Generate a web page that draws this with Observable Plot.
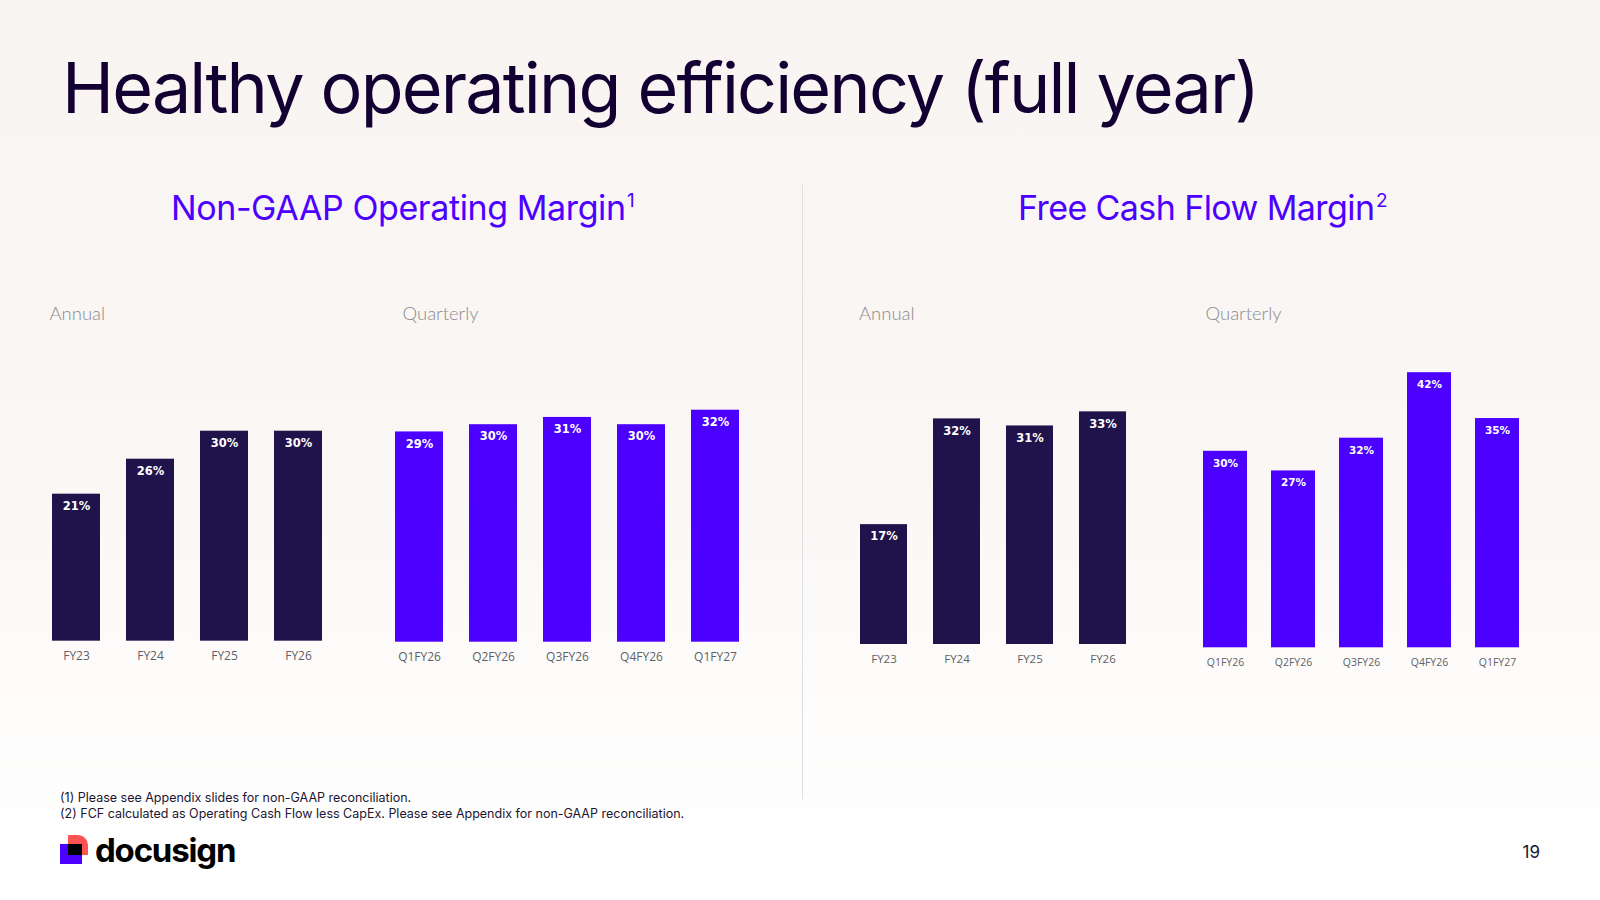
<!DOCTYPE html>
<html>
<head>
<meta charset="utf-8">
<script src="https://cdn.jsdelivr.net/npm/d3@7"></script>
<script src="https://cdn.jsdelivr.net/npm/@observablehq/plot@0.6"></script>
<style>
  html, body { margin: 0; padding: 0; }
  body { width: 1600px; height: 900px; overflow: hidden; position: relative;
         background: linear-gradient(180deg, #f8f4f1 0%, #faf7f5 55%, #fefdfc 80%, #ffffff 100%);
         font-family: Inter, "Open Sans", sans-serif; }
  #overlay { position: absolute; left: 0; top: 0; }
  .chart { position: absolute; }
</style>
</head>
<body>
<svg id="overlay" width="1600" height="900"></svg>
<script>
// ---------- data ----------
const annualLabels = ["FY23", "FY24", "FY25", "FY26"];
const quarterLabels = ["Q1FY26", "Q2FY26", "Q3FY26", "Q4FY26", "Q1FY27"];
const opMarginAnnual = [21, 26, 30, 30];
const opMarginQuarterly = [29, 30, 31, 30, 32];
const fcfMarginAnnual = [17, 32, 31, 33];
const fcfMarginQuarterly = [30, 27, 32, 42, 35];

const titleText = "Healthy operating efficiency (full year)";
const leftHeading = "Non-GAAP Operating Margin";
const rightHeading = "Free Cash Flow Margin";
const footnotes = [
  "(1) Please see Appendix slides for non-GAAP reconciliation.",
  "(2) FCF calculated as Operating Cash Flow less CapEx. Please see Appendix for non-GAAP reconciliation."
];

const NAVY = "#20124a";
const PURPLE = "#4c00ff";

// ---------- bar chart builder ----------
function barChart({labels, values, color, left, right, bw, base, pxPer, top, tickPad, tickSize, valueSize}) {
  const n = labels.length;
  const step = (right - left - bw) / (n - 1);
  const p = 1 - bw / step;
  const x0 = left - (step - bw) / 2;
  const mL = 10, mR = 10, mB = 40;
  const width = n * step + mL + mR;
  const height = base - top + mB;
  const data = labels.map((l, i) => ({label: l, value: values[i]}));
  const chart = Plot.plot({
    width, height,
    marginLeft: mL, marginRight: mR, marginTop: 0, marginBottom: mB,
    style: {background: "transparent", color: "#5f5f66", fontFamily: "Open Sans, sans-serif", fontSize: tickSize + "px", overflow: "visible"},
    x: {domain: labels, paddingInner: p, paddingOuter: p / 2, label: null},
    y: {domain: [0, (base - top) / pxPer], axis: null},
    marks: [
      Plot.barY(data, {x: "label", y: "value", fill: color}),
      Plot.text(data, {x: "label", y: "value", text: d => d.value + "%", dy: 12,
        fill: "white", fontWeight: "bold", fontSize: valueSize, fontFamily: "DejaVu Sans, sans-serif"}),
      Plot.axisX({tickSize: 0, tickPadding: tickPad, label: null})
    ]
  });
  chart.classList.add("chart");
  chart.style.left = (x0 - mL) + "px";
  chart.style.top = top + "px";
  document.body.appendChild(chart);
}

barChart({labels: annualLabels, values: opMarginAnnual, color: NAVY,
  left: 51.5, right: 322.5, bw: 48, base: 640.7, pxPer: 7.0, top: 340, tickPad: 10, tickSize: 12, valueSize: 11.5});
barChart({labels: quarterLabels, values: opMarginQuarterly, color: PURPLE,
  left: 394, right: 739, bw: 48, base: 641.7, pxPer: 7.25, top: 340, tickPad: 10, tickSize: 12, valueSize: 11.5});
barChart({labels: annualLabels, values: fcfMarginAnnual, color: NAVY,
  left: 859, right: 1127.5, bw: 47.5, base: 644, pxPer: 7.05, top: 340, tickPad: 10.5, tickSize: 11.5, valueSize: 11.5});
barChart({labels: quarterLabels, values: fcfMarginQuarterly, color: PURPLE,
  left: 1201, right: 1520, bw: 44.5, base: 647.3, pxPer: 6.55, top: 340, tickPad: 10.5, tickSize: 10.5, valueSize: 10.5});

// ---------- overlay texts ----------
const svg = d3.select("#overlay");
svg.append("text").attr("x", 62).attr("y", 113)
  .attr("font-family", "Inter, sans-serif").attr("font-size", 70).attr("font-weight", 400)
  .attr("fill", "#130032").attr("textLength", 1198).attr("lengthAdjust", "spacing")
  .text(titleText);

svg.append("text").attr("x", 171).attr("y", 220)
  .attr("font-family", "Inter, sans-serif").attr("font-size", 34).attr("font-weight", 400)
  .attr("fill", PURPLE).attr("textLength", 455).attr("lengthAdjust", "spacing")
  .text(leftHeading);
svg.append("text").attr("x", 627).attr("y", 207)
  .attr("font-family", "Inter, sans-serif").attr("font-size", 19).attr("fill", PURPLE).text("1");

svg.append("text").attr("x", 1018).attr("y", 220)
  .attr("font-family", "Inter, sans-serif").attr("font-size", 34).attr("font-weight", 400)
  .attr("fill", PURPLE).attr("textLength", 357).attr("lengthAdjust", "spacing")
  .text(rightHeading);
svg.append("text").attr("x", 1376).attr("y", 207)
  .attr("font-family", "Inter, sans-serif").attr("font-size", 19).attr("fill", PURPLE).text("2");

// divider
svg.append("line").attr("x1", 802.5).attr("x2", 802.5).attr("y1", 185).attr("y2", 799)
  .attr("stroke", "#dedfe3").attr("stroke-width", 1);

// section labels
[["Annual", 49.5], ["Quarterly", 402.5], ["Annual", 859], ["Quarterly", 1205.5]].forEach(([t, x]) => {
  svg.append("text").attr("x", x).attr("y", 319.5)
    .attr("font-family", "Lato, sans-serif").attr("font-size", 18.5).attr("font-weight", 300)
    .attr("fill", "#8a8a8f").text(t);
});

// footnotes
footnotes.forEach((t, i) => {
  svg.append("text").attr("x", 60).attr("y", 802 + i * 16)
    .attr("font-family", "Inter, sans-serif").attr("font-size", 12.5)
    .attr("fill", "#1c1533").text(t);
});

// page number
svg.append("text").attr("x", 1540).attr("y", 858).attr("text-anchor", "end")
  .attr("font-family", "Inter, sans-serif").attr("font-size", 17).attr("fill", "#1c1533").text("19");

// logo
const logo = svg.append("g");
logo.append("path").attr("d", "M68,835 H78 A10,10 0 0 1 88,845 V855 H68 Z").attr("fill", "#ff5252");
logo.append("rect").attr("x", 60).attr("y", 844).attr("width", 22).attr("height", 20).attr("fill", PURPLE);
logo.append("rect").attr("x", 68).attr("y", 844).attr("width", 14).attr("height", 11).attr("fill", "#000");
svg.append("text").attr("x", 95).attr("y", 862)
  .attr("font-family", "Inter, sans-serif").attr("font-size", 33).attr("font-weight", 700)
  .attr("letter-spacing", -1.2).attr("fill", "#000").text("docusign");
</script>
</body>
</html>
